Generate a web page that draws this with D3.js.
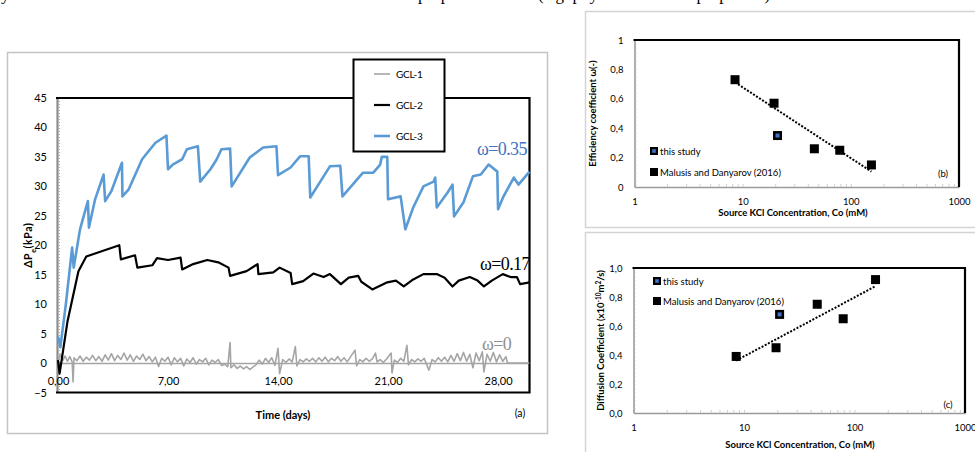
<!DOCTYPE html>
<html>
<head>
<meta charset="utf-8">
<script src="https://cdn.jsdelivr.net/npm/d3@7"></script>
<style>
  body { margin: 0; background: #fff; }
  svg { display: block; }
  text { font-family: Lato, "Open Sans", sans-serif; fill: #000; }
</style>
</head>
<body>
<svg id="chart" width="975" height="452"></svg>
<script>
// ---- panel (a): membrane pressure vs time, [days, kPa] ----
const gcl1 = [
  [0,0.3],[0.15,1.5],[0.3,0.4],[0.45,1.2],[0.6,0.3],[0.75,1.1],[0.9,0.2],[0.96,-3.2],[1.02,0.9],
  [1.2,0.4],[1.4,1.2],[1.6,0.3],[1.8,1.0],[2.0,0.5],[2.2,1.3],[2.4,0.4],[2.6,1.1],[2.8,0.3],
  [3.0,1.4],[3.2,0.5],[3.4,1.6],[3.6,0.4],[3.8,1.3],[4.0,0.6],[4.2,1.7],[4.4,0.5],[4.6,1.4],
  [4.8,0.3],[5.0,1.2],[5.2,0.6],[5.4,1.5],[5.6,0.4],[5.8,1.1],[6.0,0.2],[6.2,1.0],[6.4,-0.6],
  [6.6,0.8],[6.8,0.3],[7.0,1.0],[7.2,-0.3],[7.4,0.9],[7.6,0.2],[7.8,0.8],[8.0,-0.5],[8.2,0.7],
  [8.4,0.1],[8.6,0.9],[8.8,-0.2],[9.0,0.6],[9.2,0.2],[9.4,0.8],[9.6,-0.3],[9.8,0.5],[10.0,0.1],
  [10.2,0.6],[10.4,-0.4],[10.6,-0.2],[10.8,-0.6],[10.95,3.5],[11.0,-0.8],[11.2,-0.3],[11.4,-0.9],
  [11.6,-0.5],[11.8,-1.0],[12.0,-0.6],[12.2,-1.1],[12.4,-0.7],[12.6,-0.3],[12.8,0.5],[13.0,-0.2],
  [13.2,0.8],[13.4,0.1],[13.6,0.9],[13.8,-0.4],[14.0,2.5],[14.1,-1.8],[14.3,0.6],[14.5,0.1],
  [14.7,0.7],[14.9,0.2],[15.1,2.8],[15.2,-0.5],[15.4,0.6],[15.6,0.2],[15.8,0.7],[16.0,0.3],
  [16.2,0.8],[16.4,0.2],[16.6,0.9],[16.8,0.3],[17.0,1.0],[17.2,0.2],[17.4,0.8],[17.6,0.4],
  [17.8,1.1],[18.0,0.3],[18.2,0.9],[18.4,0.2],[18.6,1.0],[18.9,2.2],[19.0,-0.5],[19.2,0.6],
  [19.4,0.2],[19.6,0.8],[19.8,0.3],[20.0,0.7],[20.2,1.7],[20.3,0.2],[20.5,0.6],[20.7,0.1],
  [20.9,0.7],[21.2,1.7],[21.25,-1.7],[21.4,0.5],[21.6,0.1],[21.8,0.8],[22.0,0.3],[22.2,3.0],
  [22.3,-0.3],[22.5,0.6],[22.7,0.2],[22.9,0.7],[23.1,0.3],[23.3,0.8],[23.6,-1.2],[23.8,0.6],
  [24.0,0.2],[24.2,0.9],[24.4,0.3],[24.6,1.0],[24.8,0.2],[25.0,1.3],[25.2,0.3],[25.4,1.6],
  [25.6,0.4],[25.8,1.8],[26.0,0.3],[26.2,1.5],[26.4,-0.8],[26.6,1.7],[26.8,0.4],[27.0,1.9],
  [27.1,-1.5],[27.3,1.5],[27.5,0.3],[27.7,1.8],[27.9,0.2],[28.1,1.4],[28.3,0.3],[28.5,1.1],
  [28.6,0],[30,0]
];
const gcl2 = [
  [0,0.5],[0.1,-1.8],[0.6,7],[1.3,15.6],[1.8,18.1],[3.9,20],[4.0,17.6],[4.9,18.3],[5.05,16.2],
  [6.0,16.6],[6.3,17.8],[7.0,17.5],[7.8,17.9],[7.9,15.9],[8.6,16.8],[9.5,17.5],[10.2,17.1],
  [10.85,16.2],[10.95,14.8],[12.0,15.6],[12.7,16.8],[12.75,15.1],[13.7,15.4],[14.1,16.2],
  [14.8,15.3],[14.9,13.4],[15.6,13.9],[16.25,15.2],[16.9,14.6],[17.3,15.1],[18,13.4],[18.5,14.5],
  [19.1,14.8],[19.3,13.8],[20,12.5],[20.95,13.7],[21.5,14.0],[22,13.0],[22.6,14.2],[23.25,15.1],
  [24.1,15.1],[24.6,14.5],[25.1,13.0],[25.5,14.0],[26.2,14.6],[26.7,14.0],[27.1,13.0],[27.6,14.0],
  [28.3,15.1],[28.8,14.6],[29.2,14.6],[29.4,13.4],[30,13.7]
];
const gcl3 = [
  [0,4.5],[0.15,2.7],[0.5,10],[0.9,19.6],[1.0,16.2],[1.4,22.7],[1.9,27.5],[1.97,23],[2.36,27.8],
  [2.9,32],[3.0,27.5],[3.4,29.2],[4.07,34],[4.1,28.3],[4.5,29.5],[5.35,34.6],[6.2,37.4],[6.9,38.6],
  [7.0,32.9],[7.3,33.7],[7.9,34.6],[8.2,36.3],[8.9,36.8],[9.05,30.8],[9.7,32.9],[10.1,34.6],
  [10.4,36.3],[10.95,36.4],[11.05,30],[12.2,34.9],[13.05,36.6],[13.9,36.8],[14.0,31.9],[14.8,33.2],
  [15.4,35.1],[15.95,35.1],[16.05,28.1],[16.9,31.7],[17.3,33.4],[17.96,33.5],[18.1,28.3],[19.2,31.7],
  [19.4,32.3],[20.05,32.3],[20.5,33.7],[20.6,35],[20.95,35],[21.0,27.8],[21.8,28.3],[22.1,22.7],
  [22.6,26.4],[23.25,30],[23.9,30.8],[24.0,31.5],[24.1,26.4],[24.8,29],[25.1,30.3],[25.2,24.9],
  [25.8,27.3],[26.4,31.7],[26.9,32],[27.4,33.7],[27.95,32.5],[28.0,26.1],[28.35,28.3],[29.0,31.5],
  [29.3,30.3],[30,32.5]
];
const seriesNames = ['GCL-1', 'GCL-2', 'GCL-3'];
const omegaLabels = ['ω=0', 'ω=0.17', 'ω=0.35'];
const timeTicks = [0, 7, 14, 21, 28];
const dpTicks = [-5, 0, 5, 10, 15, 20, 25, 30, 35, 40, 45];

// ---- panels (b) and (c): vs source KCl concentration (mM) ----
const concMalusis = [8.5, 19.5, 46, 79, 155];
const concThisStudy = [21];
const effMalusis = [0.73, 0.57, 0.26, 0.25, 0.15];
const effThisStudy = [0.35];
const diffMalusis = [0.39, 0.45, 0.75, 0.65, 0.92];
const diffThisStudy = [0.68];
const concTicks = [1, 10, 100, 1000];
const unitTicks = [0, 0.2, 0.4, 0.6, 0.8, 1];
const legendNames = ['this study', 'Malusis and Danyarov (2016)'];

const svg = d3.select('#chart');
const comma = s => s.replace('.', ',');

// cut-off line of the surrounding page text
svg.append('text')
  .attr('y', 0)
  .style('font-family', '"Liberation Serif", serif')
  .style('font-size', '17px')
  .call(t => {
    t.append('tspan').attr('x', 1).text('y');
    t.append('tspan').attr('x', 418).text('properties');
    t.append('tspan').attr('x', 538).text('(e.g. physico-chemical properties)');
  });

// ================= panel (a) =================
const colors = ['#a5a5a5', '#000000', '#5b9bd5'];
const widths = [1.6, 2.2, 2.6];

svg.append('rect')
  .attr('x', 7.5).attr('y', 52.5).attr('width', 540).attr('height', 381)
  .attr('fill', 'none').attr('stroke', '#c4c4c4').attr('stroke-width', 1.5);

const xA = d3.scaleLinear().domain([0, 30]).range([58, 529.5]);
const yA = d3.scaleLinear().domain([-5, 45]).range([392.5, 98]);
const gA = svg.append('g');

// left axis
gA.append('g')
  .attr('transform', `translate(${xA(0) - 1},0)`)
  .call(d3.axisLeft(yA).tickValues(dpTicks).tickSize(0).tickPadding(10))
  .call(g => g.select('.domain').attr('stroke', '#8c8c8c').attr('stroke-width', 2.2))
  .call(g => g.selectAll('text').style('font-size', '11px').style('font-family', 'Lato'));
gA.append('line')
  .attr('x1', xA(0) + 1.5).attr('x2', xA(0) + 1.5).attr('y1', yA(45)).attr('y2', yA(-5))
  .attr('stroke', '#b0b0b0').attr('stroke-dasharray', '1,2');

// horizontal axis crossing at zero
gA.append('g')
  .attr('transform', `translate(0,${yA(0)})`)
  .call(d3.axisBottom(xA).tickValues(timeTicks).tickSize(0).tickPadding(14)
    .tickFormat(d => comma(d3.format('.2f')(d))))
  .call(g => g.select('.domain').attr('stroke', '#a5a5a5').attr('stroke-width', 1.5))
  .call(g => g.selectAll('text').style('font-size', '11px').style('font-family', 'Lato'));

// frame (top, right, bottom)
gA.append('path')
  .attr('d', `M${xA(0) - 2},${yA(45)}H${xA(30)}V${yA(-5)}H${xA(0) - 2}`)
  .attr('fill', 'none').attr('stroke', '#000').attr('stroke-width', 2.2);

const line = d3.line().x(d => xA(d[0])).y(d => yA(d[1]));
[gcl1, gcl2, gcl3].forEach((s, i) => {
  gA.append('path').datum(s)
    .attr('d', line)
    .attr('fill', 'none')
    .attr('stroke', colors[i])
    .attr('stroke-width', widths[i])
    .attr('stroke-linejoin', 'round');
});

// omega annotations
const omegaPos = [[482, 350, '#909090'], [480, 270, '#000'], [477, 155, '#4472c4']];
omegaLabels.forEach((t, i) => {
  gA.append('text')
    .attr('x', omegaPos[i][0]).attr('y', omegaPos[i][1])
    .style('font-family', '"Liberation Serif", serif')
    .style('font-size', '18px')
    .style('letter-spacing', '-0.6px')
    .attr('fill', omegaPos[i][2]).style('fill', omegaPos[i][2])
    .text(t);
});

// axis titles
gA.append('text')
  .attr('x', 283).attr('y', 419).attr('text-anchor', 'middle')
  .style('font-size', '11px').style('font-weight', 'bold')
  .text('Time (days)');
gA.append('text')
  .attr('transform', `translate(32,${(yA(45) + yA(-5)) / 2}) rotate(-90)`)
  .attr('text-anchor', 'middle')
  .style('font-size', '10.5px').style('font-weight', 'bold').style('letter-spacing', '0.6px')
  .call(t => {
    t.append('tspan').text('ΔP');
    t.append('tspan').attr('baseline-shift', 'sub').style('font-size', '7px').text('e');
    t.append('tspan').text('(kPa)');
  });
gA.append('text')
  .attr('x', 520).attr('y', 417).attr('text-anchor', 'middle')
  .style('font-size', '10.5px').text('(a)');

// legend
const legA = gA.append('g');
legA.append('rect')
  .attr('x', 353.5).attr('y', 59.5).attr('width', 91).attr('height', 92)
  .attr('fill', '#fff').attr('stroke', '#000').attr('stroke-width', 2);
seriesNames.forEach((n, i) => {
  const yy = 74 + i * 31;
  legA.append('line')
    .attr('x1', 374).attr('x2', 390).attr('y1', yy).attr('y2', yy)
    .attr('stroke', colors[i]).attr('stroke-width', widths[i]);
  legA.append('text')
    .attr('x', 396).attr('y', yy + 3.5)
    .style('font-size', '10px').style('letter-spacing', '-0.3px')
    .text(n);
});

// ================= panels (b) and (c) =================
function logFit(xs, ys) {
  const lx = xs.map(Math.log10);
  const mx = d3.mean(lx), my = d3.mean(ys);
  const b = d3.sum(lx, (v, i) => (v - mx) * (ys[i] - my)) / d3.sum(lx, v => (v - mx) ** 2);
  return v => my + b * (Math.log10(v) - mx);
}

function scatterPanel(o) {
  svg.append('rect')
    .attr('x', 585.5).attr('y', o.boxTop).attr('width', 420).attr('height', o.boxH)
    .attr('fill', 'none').attr('stroke', '#d4d4d4').attr('stroke-width', 1.5);

  const x = d3.scaleLog().domain([1, 1000]).range([o.left, o.right]);
  const y = d3.scaleLinear().domain([0, 1]).range([o.bottom, o.top]);
  const g = svg.append('g');

  const minor = [];
  [1, 10, 100].forEach(p => d3.range(1, 10).forEach(k => minor.push(p * k)));
  minor.push(1000);

  g.append('g')
    .attr('transform', `translate(0,${o.bottom})`)
    .call(d3.axisBottom(x).tickValues(minor).tickSizeInner(-3).tickSizeOuter(0).tickPadding(11)
      .tickFormat(d => concTicks.includes(d) ? d : ''))
    .call(g => g.select('.domain').attr('stroke', '#9a9a9a').attr('stroke-width', 1.6))
    .call(g => g.selectAll('.tick line').attr('stroke', '#d0d0d0'))
    .call(g => g.selectAll('text').style('font-size', '9.5px').style('font-family', 'Lato'));

  g.append('g')
    .attr('transform', `translate(${o.left},0)`)
    .call(d3.axisLeft(y).tickValues(unitTicks).tickSize(0).tickPadding(11).tickFormat(o.fmt))
    .call(g => g.select('.domain').attr('stroke', '#9a9a9a').attr('stroke-width', 1.6))
    .call(g => g.selectAll('text').style('font-size', '9.5px').style('font-family', 'Lato'));
  g.append('line')
    .attr('x1', o.left + 1.5).attr('x2', o.left + 1.5).attr('y1', o.top).attr('y2', o.bottom)
    .attr('stroke', '#c8c8c8').attr('stroke-dasharray', '1,3');

  g.append('path')
    .attr('d', `M${o.left - 1},${o.top}H${o.right}V${o.bottom}`)
    .attr('fill', 'none').attr('stroke', '#000').attr('stroke-width', 2.2);

  // dotted log trend line of the Malusis data
  const fit = logFit(concMalusis, o.malusis);
  const ends = d3.extent(concMalusis);
  g.append('line')
    .attr('x1', x(ends[0])).attr('y1', y(fit(ends[0])))
    .attr('x2', x(ends[1])).attr('y2', y(fit(ends[1])))
    .attr('stroke', '#000').attr('stroke-width', 2).attr('stroke-dasharray', '2,1.6');

  const sq = 9;
  g.append('g').selectAll('rect')
    .data(concMalusis.map((c, i) => [c, o.malusis[i]]))
    .join('rect')
    .attr('x', d => x(d[0]) - sq / 2).attr('y', d => y(d[1]) - sq / 2)
    .attr('width', sq).attr('height', sq).attr('fill', '#000');

  const ts = g.append('g').selectAll('g')
    .data(concThisStudy.map((c, i) => [c, o.thisStudy[i]]))
    .join('g')
    .attr('transform', d => `translate(${x(d[0])},${y(d[1])})`);
  ts.append('rect').attr('x', -sq / 2).attr('y', -sq / 2).attr('width', sq).attr('height', sq)
    .attr('fill', '#000');
  ts.append('rect').attr('x', -2).attr('y', -2).attr('width', 4).attr('height', 4)
    .attr('fill', '#4472c4');

  // legend
  legendNames.forEach((n, i) => {
    const ly = o.legY[i];
    const lg = g.append('g').attr('transform', `translate(${o.legX},${ly})`);
    lg.append('rect').attr('x', -4).attr('y', -4).attr('width', 8).attr('height', 8).attr('fill', '#000');
    if (i === 0) {
      lg.append('rect').attr('x', -1.8).attr('y', -1.8).attr('width', 3.6).attr('height', 3.6)
        .attr('fill', '#4472c4');
    }
    lg.append('text').attr('x', 6).attr('y', 3.5)
      .style('font-size', '9.5px').text(n);
  });

  g.append('text')
    .attr('x', o.tag[0]).attr('y', o.tag[1]).attr('text-anchor', 'middle')
    .style('font-size', '9.5px').text(o.tagText);

  g.append('text')
    .attr('x', o.xTitle[0]).attr('y', o.xTitle[1]).attr('text-anchor', 'middle')
    .style('font-size', '9.5px').style('font-weight', 'bold')
    .text('Source KCl Concentration, Co (mM)');

  const yt = g.append('text')
    .attr('transform', `translate(${o.yTitle[0]},${(o.top + o.bottom) / 2}) rotate(-90)`)
    .attr('text-anchor', 'middle')
    .style('font-size', '9.5px').style('font-weight', 'bold');
  o.yTitleParts.forEach(p => {
    const sp = yt.append('tspan').text(p[0]);
    if (p[1]) sp.attr('baseline-shift', 'super').style('font-size', '6.5px');
  });
}

scatterPanel({
  boxTop: 11.5, boxH: 216,
  left: 634.5, right: 959, top: 40, bottom: 187,
  fmt: d => (d === 0 || d === 1) ? String(d) : comma(d3.format('.1f')(d)),
  malusis: effMalusis, thisStudy: effThisStudy,
  legX: 654, legY: [151, 172],
  tag: [943, 177], tagText: '(b)',
  xTitle: [793, 216],
  yTitle: [596],
  yTitleParts: [['Efficiency coefficient ω(-)']]
});

scatterPanel({
  boxTop: 232.5, boxH: 240,
  left: 633.5, right: 965, top: 268, bottom: 413,
  fmt: d => comma(d3.format('.1f')(d)),
  malusis: diffMalusis, thisStudy: diffThisStudy,
  legX: 657, legY: [281, 301],
  tag: [948, 408], tagText: '(c)',
  xTitle: [800, 448],
  yTitle: [604],
  yTitleParts: [['Diffusion Coefficient (x10'], ['-10', true], ['m'], ['2', true], ['/s)']]
});
</script>
</body>
</html>
